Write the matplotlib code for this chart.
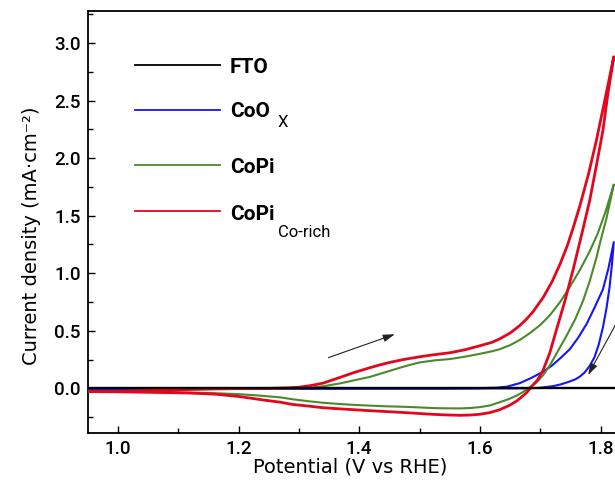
import matplotlib
matplotlib.use("Agg")
import matplotlib.pyplot as plt
from matplotlib.lines import Line2D
from matplotlib.ticker import MultipleLocator

plt.rcParams["font.family"] = ["Roboto", "DejaVu Sans"]

# ---- cyclic voltammetry data: potential (V vs RHE) and current density (mA/cm2)
fto_v = [0.95, 1.20, 1.40, 1.60, 1.825]
fto_j = [0.0, 0.0, 0.0, 0.0, 0.0]

coox_fwd_v = [0.95, 1.20, 1.40, 1.55, 1.60, 1.628, 1.645, 1.666, 1.685, 1.705,
              1.720, 1.735, 1.749, 1.763, 1.777, 1.790, 1.804, 1.813, 1.822]
coox_fwd_j = [0.0, 0.0, 0.0, 0.0, 0.002, 0.006, 0.015, 0.045, 0.09, 0.145,
              0.20, 0.27, 0.34, 0.44, 0.56, 0.70, 0.86, 1.04, 1.27]
coox_rev_v = [1.822, 1.819, 1.815, 1.810, 1.804, 1.797, 1.790, 1.782, 1.774,
              1.766, 1.758, 1.749, 1.735, 1.722, 1.700, 1.677, 1.60, 1.40,
              1.20, 0.95]
coox_rev_j = [1.27, 1.08, 0.88, 0.70, 0.53, 0.38, 0.27, 0.195, 0.14,
              0.103, 0.078, 0.060, 0.036, 0.02, 0.005, 0.0, 0.0, 0.0,
              -0.002, -0.005]

copi_fwd_v = [0.95, 1.00, 1.05, 1.10, 1.15, 1.20, 1.25, 1.29, 1.318, 1.34,
              1.368, 1.39, 1.418, 1.44, 1.468, 1.485, 1.501, 1.525, 1.551,
              1.575, 1.600, 1.620, 1.633, 1.650, 1.666, 1.683, 1.700, 1.716,
              1.733, 1.749, 1.766, 1.782, 1.795, 1.808, 1.822]
copi_fwd_j = [-0.028, -0.025, -0.02, -0.012, -0.006, -0.002, 0.0, 0.0, 0.004,
              0.018, 0.043, 0.068, 0.10, 0.135, 0.18, 0.205, 0.226, 0.243,
              0.255, 0.275, 0.30, 0.322, 0.34, 0.375, 0.42, 0.48, 0.55, 0.635,
              0.75, 0.88, 1.03, 1.19, 1.34, 1.53, 1.77]
copi_rev_v = [1.822, 1.815, 1.810, 1.800, 1.793, 1.782, 1.771, 1.758, 1.744,
              1.730, 1.716, 1.705, 1.694, 1.683, 1.672, 1.661, 1.647, 1.633,
              1.617, 1.600, 1.583, 1.567, 1.540, 1.517, 1.490, 1.468, 1.440,
              1.418, 1.390, 1.368, 1.340, 1.318, 1.290, 1.269, 1.240, 1.200,
              1.150, 1.100, 1.050, 1.000, 0.950]
copi_rev_j = [1.77, 1.60, 1.48, 1.28, 1.13, 0.93, 0.76, 0.60, 0.46, 0.33,
              0.20, 0.115, 0.052, 0.009, -0.03, -0.063, -0.095, -0.12, -0.148,
              -0.163, -0.171, -0.174, -0.173, -0.17, -0.163, -0.159, -0.155,
              -0.15, -0.143, -0.136, -0.125, -0.113, -0.095, -0.078, -0.065,
              -0.05, -0.04, -0.035, -0.032, -0.03, -0.028]

corich_fwd_v = [0.95, 1.00, 1.05, 1.10, 1.15, 1.20, 1.25, 1.28, 1.30, 1.318,
                1.34, 1.368, 1.39, 1.418, 1.435, 1.451, 1.475, 1.501, 1.525,
                1.551, 1.575, 1.600, 1.620, 1.633, 1.650, 1.666, 1.677, 1.688,
                1.705, 1.720, 1.733, 1.745, 1.755, 1.766, 1.780, 1.793, 1.807,
                1.822]
corich_fwd_j = [-0.028, -0.025, -0.02, -0.012, -0.006, -0.002, 0.0, 0.004,
                0.010, 0.023, 0.045, 0.095, 0.135, 0.18, 0.205, 0.226, 0.252,
                0.275, 0.293, 0.31, 0.335, 0.37, 0.40, 0.43, 0.48, 0.545, 0.60,
                0.665, 0.79, 0.93, 1.08, 1.24, 1.40, 1.59, 1.86, 2.15, 2.50,
                2.88]
corich_rev_v = [1.822, 1.812, 1.804, 1.793, 1.782, 1.768, 1.755, 1.741, 1.727,
                1.716, 1.705, 1.696, 1.688, 1.682, 1.677, 1.668, 1.661, 1.648,
                1.633, 1.617, 1.600, 1.583, 1.567, 1.540, 1.517, 1.490, 1.468,
                1.440, 1.418, 1.390, 1.368, 1.340, 1.318, 1.290, 1.269, 1.240,
                1.200, 1.160, 1.115, 1.050, 1.000, 0.950]
corich_rev_j = [2.88, 2.55, 2.24, 1.93, 1.63, 1.32, 1.04, 0.76, 0.51, 0.31,
                0.16, 0.075, 0.03, -0.01, -0.04, -0.08, -0.11, -0.15, -0.185,
                -0.21, -0.225, -0.232, -0.234, -0.23, -0.224, -0.215, -0.208,
                -0.20, -0.194, -0.185, -0.178, -0.168, -0.155, -0.14, -0.12,
                -0.10, -0.07, -0.05, -0.04, -0.034, -0.03, -0.028]

x_ticks = [1.0, 1.2, 1.4, 1.6, 1.8]
y_ticks = [0.0, 0.5, 1.0, 1.5, 2.0, 2.5, 3.0]

RED = "#e3061c"
GREEN = "#4b8a2c"
BLUE = "#1515f5"
BLACK = "#000000"

W, H = 615, 486
fig = plt.figure(figsize=(W / 100, H / 100), dpi=100)
ax = fig.add_axes([87.7 / W, 1 - 432.7 / H, (W - 87.7) / W, (432.7 - 10.7) / H])


def loop(v1, j1, v2, j2):
    return list(v1) + list(v2[1:]), list(j1) + list(j2[1:])


v, j = loop(coox_fwd_v, coox_fwd_j, coox_rev_v, coox_rev_j)
ax.plot(v, j, color=BLUE, lw=1.5, zorder=3, solid_joinstyle="round")
v, j = loop(copi_fwd_v, copi_fwd_j, copi_rev_v, copi_rev_j)
ax.plot(v, j, color=GREEN, lw=1.5, zorder=4, solid_joinstyle="round")
v, j = loop(corich_fwd_v, corich_fwd_j, corich_rev_v, corich_rev_j)
ax.plot(v, j, color=RED, lw=2.0, zorder=5, solid_joinstyle="round")
ax.plot(fto_v, fto_j, color=BLACK, lw=1.7, zorder=6)

# scan-direction arrows
arrow = dict(arrowstyle="-|>,head_length=0.7,head_width=0.22", color="#222222",
             lw=0.8, shrinkA=0, shrinkB=0)
ax.annotate("", xy=(1.459, 0.47), xytext=(1.349, 0.267), arrowprops=arrow)
ax.annotate("", xy=(1.7795, 0.117), xytext=(1.835, 0.65), arrowprops=arrow,
            annotation_clip=False)

ax.set_xlim(0.95, 1.824)
ax.set_ylim(-0.385, 3.28)
ax.set_xticks(x_ticks)
ax.set_yticks(y_ticks)
ax.xaxis.set_minor_locator(MultipleLocator(0.1))
ax.yaxis.set_minor_locator(MultipleLocator(0.25))
ax.set_xticklabels([f"{t:.1f}" for t in x_ticks], fontweight="medium")
ax.set_yticklabels([f"{t:.1f}" for t in y_ticks], fontweight="medium")
ax.tick_params(which="both", direction="in", width=1.0, labelsize=13.5,
               top=False, right=False)
ax.tick_params(which="major", length=5)
ax.tick_params(which="minor", length=3.5)
ax.tick_params(axis="y", pad=5)
ax.tick_params(axis="x", pad=5)
ax.spines["right"].set_visible(False)
for s in ("left", "bottom", "top"):
    ax.spines[s].set_linewidth(1.3)

ax.set_xlabel("Potential (V vs RHE)", fontsize=14, family="DejaVu Sans")
ax.set_ylabel("Current density (mA·cm⁻²)", fontsize=14, family="DejaVu Sans")
ax.xaxis.set_label_coords(0.498, -0.0576)
ax.yaxis.set_label_coords(-0.0886, 0.466)

# legend drawn in figure pixel coordinates
def fx(x):
    return x / W


def fy(y):
    return 1 - y / H


entries = [
    ("FTO", None, BLACK, 65, 72.7, None),
    ("CoO", "X", BLUE, 110, 116.7, 127),
    ("CoPi", None, GREEN, 165, 172.7, None),
    ("CoPi", "Co-rich", RED, 211, 220, 237),
]
for label, sub, color, ly, base, sub_base in entries:
    fig.add_artist(Line2D([fx(135), fx(220)], [fy(ly), fy(ly)], color=color,
                          lw=1.3, transform=fig.transFigure))
    fig.text(fx(230), fy(base), label, fontsize=15, fontweight="bold",
             va="baseline", ha="left")
    if sub:
        fig.text(fx(278), fy(sub_base), sub, fontsize=12, va="baseline",
                 ha="left")

fig.savefig("out.png", dpi=100)
